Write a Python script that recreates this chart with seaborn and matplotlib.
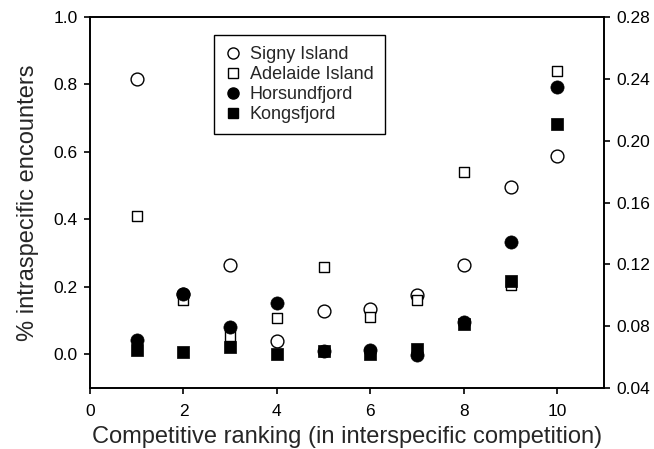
import matplotlib
matplotlib.use("Agg")
import matplotlib.pyplot as plt
import seaborn as sns
import pandas as pd
from matplotlib.lines import Line2D

sns.set_theme(style="ticks")
plt.rcParams["font.family"] = ["Liberation Sans", "DejaVu Sans"]

# Competitive ranking (x) for every site
ranking = [1, 2, 3, 4, 5, 6, 7, 8, 9, 10]

# Antarctic sites, left axis (% intraspecific encounters)
signy_island = [0.815, 0.18, 0.266, 0.038, 0.128, 0.135, 0.175, 0.264, 0.496, 0.587]
adelaide_island = [0.41, 0.16, 0.053, 0.109, 0.259, 0.11, 0.162, 0.54, 0.204, 0.839]

# Arctic sites, right axis
horsundfjord = [0.071, 0.1008, 0.0797, 0.0948, 0.0642, 0.0646, 0.0614, 0.0829, 0.1347, 0.2345]
kongsfjord = [0.0646, 0.0635, 0.0667, 0.062, 0.0642, 0.062, 0.0652, 0.0814, 0.1094, 0.2106]

left_ticks = [0.0, 0.2, 0.4, 0.6, 0.8, 1.0]
right_ticks = [0.04, 0.08, 0.12, 0.16, 0.20, 0.24, 0.28]
x_ticks = [0, 2, 4, 6, 8, 10]

fig = plt.figure(figsize=(6.54, 4.49), dpi=100)
ax = fig.add_axes([90 / 654, 1 - 388 / 449, (604 - 90) / 654, (388 - 17) / 449])
ax2 = ax.twinx()

df_signy = pd.DataFrame({"rank": ranking, "val": signy_island})
df_adel = pd.DataFrame({"rank": ranking, "val": adelaide_island})
df_hors = pd.DataFrame({"rank": ranking, "val": horsundfjord})
df_kong = pd.DataFrame({"rank": ranking, "val": kongsfjord})

sns.scatterplot(data=df_signy, x="rank", y="val", ax=ax, marker="o", s=85,
                facecolor="white", edgecolor="black", linewidth=1.0, zorder=3)
sns.scatterplot(data=df_adel, x="rank", y="val", ax=ax, marker="s", s=62,
                facecolor="white", edgecolor="black", linewidth=1.0, zorder=4)
sns.scatterplot(data=df_hors, x="rank", y="val", ax=ax2, marker="o", s=90,
                color="black", edgecolor="black", linewidth=0.5, zorder=3)
sns.scatterplot(data=df_kong, x="rank", y="val", ax=ax2, marker="s", s=66,
                color="black", edgecolor="black", linewidth=0.5, zorder=4)

ax.set_xlim(0, 11)
ax.set_ylim(-0.1, 1.0)
ax2.set_ylim(0.04, 0.28)
ax.set_xticks(x_ticks)
ax.set_yticks(left_ticks)
ax2.set_yticks(right_ticks)
ax.set_yticklabels([f"{t:.1f}" for t in left_ticks])
ax2.set_yticklabels([f"{t:.2f}" for t in right_ticks])

ax.set_xlabel("Competitive ranking (in interspecific competition)", fontsize=17, labelpad=5)
ax.set_ylabel("% intraspecific encounters", fontsize=17, labelpad=10)
ax2.set_ylabel("")

for a in (ax, ax2):
    for sp in a.spines.values():
        sp.set_visible(True)
        sp.set_linewidth(1.2)
        sp.set_color("black")
    a.tick_params(direction="out", length=4.5, width=1.2, labelsize=12.5, colors="black", pad=4.5)
ax.tick_params(axis="x", pad=7)
ax.tick_params(axis="y", which="both", right=False)
ax2.tick_params(axis="y", left=False, right=True)

handles = [
    Line2D([], [], linestyle="none", marker="o", markersize=8, markerfacecolor="white",
           markeredgecolor="black", markeredgewidth=1.0),
    Line2D([], [], linestyle="none", marker="s", markersize=6.5, markerfacecolor="white",
           markeredgecolor="black", markeredgewidth=1.0),
    Line2D([], [], linestyle="none", marker="o", markersize=8, markerfacecolor="black",
           markeredgecolor="black"),
    Line2D([], [], linestyle="none", marker="s", markersize=6.5, markerfacecolor="black",
           markeredgecolor="black"),
]
labels = ["Signy Island", "Adelaide Island", "Horsundfjord", "Kongsfjord"]
leg = ax2.legend(handles, labels, loc="upper left", bbox_to_anchor=(124 / 514, 1 - 18 / 371),
                 fontsize=13, frameon=True, fancybox=False, framealpha=1,
                 edgecolor="black", handlelength=0.9, handletextpad=0.45,
                 labelspacing=0.16, borderpad=0.62, borderaxespad=0)
leg.get_frame().set_linewidth(1.0)

fig.savefig("out.png", dpi=100)
